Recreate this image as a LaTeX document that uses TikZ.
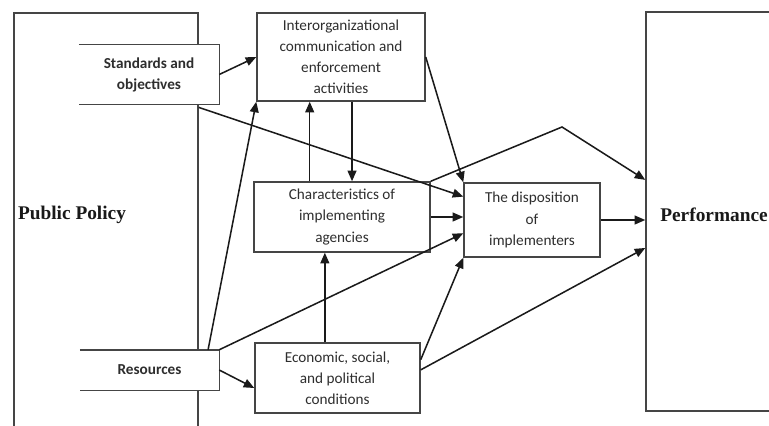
\documentclass[tikz,border=0pt]{standalone}
\usepackage{fontspec}
\setmainfont{Carlito}
\newfontfamily\serifbold{Liberation Serif}
\usetikzlibrary{arrows.meta,calc,shadows}
\definecolor{boxline}{HTML}{454545}
\definecolor{txt}{HTML}{2E2E2E}
\definecolor{arrline}{HTML}{1A1A1A}
\begin{document}
\begin{tikzpicture}[x=0.03cm,y=-0.03cm,
  box/.style={draw=boxline,line width=1.25pt,fill=white,align=center,inner sep=0pt,
    font=\fontsize{13}{18}\selectfont,text=txt,
    drop shadow={shadow xshift=1.2pt,shadow yshift=-1.2pt,opacity=0.35}},
  openbox/.style={fill=white,align=center,inner sep=0pt,
    font=\fontsize{13}{18}\selectfont\bfseries,text=txt},
  bigframe/.style={draw=boxline,line width=1.25pt,inner sep=0pt},
  biglabel/.style={font=\serifbold\fontsize{16.5}{20}\selectfont\bfseries,text=black!90},
  arr/.style={draw=arrline,line width=1.3pt,-{Triangle[length=9pt,width=7.5pt]}}]
\useasboundingbox (0,0) rectangle (769,425);
\fill[white] (0,0) rectangle (769,425);
% outer frames
\node[bigframe,minimum width=5.52cm,minimum height=12.81cm] (pp) at (106,226.5) {};
\node[bigframe,minimum width=4.62cm,minimum height=11.97cm] (perf) at (723,211.5) {};
\node[biglabel] (pplabel) at (72,215) {Public Policy};
\node[biglabel] (perflabel) at (714,215) {Performance};
% inner open boxes
\node[openbox,minimum width=4.2cm,minimum height=1.77cm] (std) at (149,74.5) {Standards and\\objectives};
\draw[boxline,line width=1.25pt] (std.north west) -- (std.north east) -- (std.south east) -- (std.south west);
\node[openbox,minimum width=4.17cm,minimum height=1.2cm] (res) at (149.5,370) {Resources};
\draw[boxline,line width=1.25pt] (res.north west) -- (res.north east) -- (res.south east) -- (res.south west);
% boxes
\node[box,minimum width=5.04cm,minimum height=2.64cm] (inter) at (341,57) {Interorganizational\\communication and\\enforcement\\activities};
\node[box,minimum width=5.28cm,minimum height=2.1cm] (char) at (342,217) {Characteristics of\\implementing\\agencies};
\node[box,minimum width=4.08cm,minimum height=2.22cm] (disp) at (532,220) {The disposition\\of\\implementers};
\node[box,minimum width=4.95cm,minimum height=2.1cm] (econ) at (337.5,378) {Economic, social,\\and political\\conditions};
\coordinate (peak) at (562,127);
% connectors
\draw[arr] (std.east) -- (inter.west);
\draw[arr] ($(pp.north east)!0.222!(pp.south east)$) -- ($(disp.north west)!0.19!(disp.south west)$);
\draw[arr] ($(res.north west)!0.92!(res.north east)$) -- (inter.south west);
\draw[arr] (res.north east) -- ($(disp.north west)!0.676!(disp.south west)$);
\draw[arr] (res.east) -- ($(econ.north west)!0.64!(econ.south west)$);
\draw[arr] ($(econ.north west)!0.424!(econ.north east)$) coordinate (e1) -- (e1 |- char.south);
\draw[arr] ($(char.north west)!0.318!(char.north east)$) coordinate (c1) -- (c1 |- inter.south);
\draw[arr] ($(inter.south west)!0.565!(inter.south east)$) coordinate (i1) -- (i1 |- char.north);
\draw[arr] (inter.east) -- (disp.north west);
\draw[arr] (char.east) -- (char.east -| disp.west);
\draw[arr] (char.north east) -- (peak) -- ($(perf.north west)!0.421!(perf.south west)$);
\draw[arr] (disp.east) -- (disp.east -| perf.west);
\draw[arr] ($(econ.north east)!0.386!(econ.south east)$) -- ($(perf.north west)!0.591!(perf.south west)$);
\draw[arr] ($(econ.north east)!0.243!(econ.south east)$) -- (disp.south west);
\end{tikzpicture}
\end{document}
